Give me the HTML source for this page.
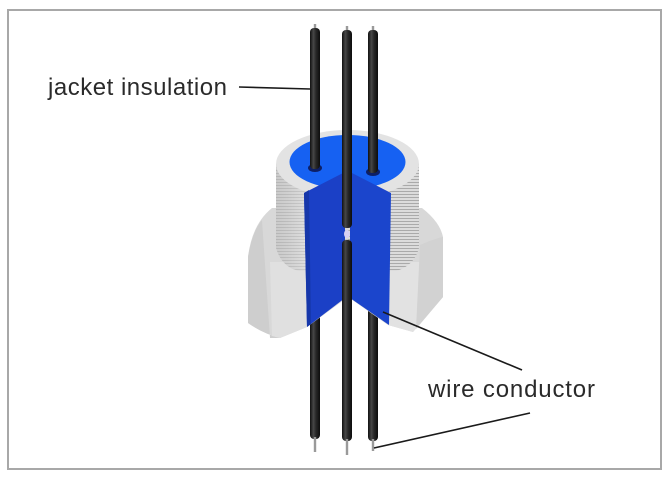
<!DOCTYPE html>
<html><head><meta charset="utf-8"><style>
html,body{margin:0;padding:0;background:#fff;}
svg{display:block;}
</style></head><body>
<svg width="670" height="478" viewBox="0 0 670 478" xmlns="http://www.w3.org/2000/svg">
<defs>
  <pattern id="thrL" width="6" height="3" patternUnits="userSpaceOnUse">
    <rect width="6" height="3" fill="#dadada"/><rect y="2" width="6" height="1" fill="#c4c4c4"/>
  </pattern>
  <pattern id="thrR" width="6" height="3" patternUnits="userSpaceOnUse">
    <rect width="6" height="3" fill="#dcdcdc"/><rect y="2" width="6" height="1" fill="#aaaaaa"/>
  </pattern>
  <linearGradient id="wire" x1="0" x2="1" y1="0" y2="0">
    <stop offset="0" stop-color="#111"/>
    <stop offset="0.35" stop-color="#474747"/>
    <stop offset="0.6" stop-color="#282828"/>
    <stop offset="1" stop-color="#0c0c0c"/>
  </linearGradient>
  <linearGradient id="cylL" x1="0" x2="1">
    <stop offset="0" stop-color="#000" stop-opacity="0.07"/>
    <stop offset="1" stop-color="#fff" stop-opacity="0.1"/>
  </linearGradient>
</defs>
<rect width="670" height="478" fill="#fff"/>
<rect x="8" y="10" width="653" height="459" fill="none" stroke="#a8a8a8" stroke-width="2"/>

<!-- lower wire segments (behind body) -->
<rect x="310" y="300" width="10" height="139" rx="4" fill="url(#wire)"/>
<rect x="313.8" y="437" width="2.4" height="15" fill="#9a9a9a"/>
<rect x="368" y="300" width="10" height="141" rx="4" fill="url(#wire)"/>
<rect x="371.8" y="439" width="2.4" height="12" fill="#9a9a9a"/>

<!-- hex body -->
<path d="M248,257 Q252,224 272,208 L422,208 Q440,222 443,237 L443,297 L413,332 L388,325 L348,297 L307,327 L280,338 Q262,333 248,323 Z" fill="#d8d8d8"/>
<path d="M248,257 Q252,232 262,220 L270,338 L280,338 Q262,333 248,323 Z" fill="#cecece"/>
<polygon points="270,262 305,262 307,327 280,338 272,336" fill="#e0e0e0"/>
<polygon points="388,262 420,262 418,326 413,332 388,325" fill="#e2e2e2"/>
<path d="M420,245 Q436,238 443,237 L443,297 L416,329 Z" fill="#d2d2d2"/>

<!-- threaded cylinder -->
<path d="M276,164 L276,248 Q282,268 300,271 L348,271 L348,164 Z" fill="url(#thrL)"/>
<path d="M348,164 L348,271 L396,271 Q414,266 419,248 L419,164 Z" fill="url(#thrR)"/>
<path d="M276,164 L276,248 Q282,268 300,271 L305,271 L305,164 Z" fill="url(#cylL)"/>

<!-- top ring and blue top -->
<ellipse cx="347.5" cy="164" rx="71.5" ry="34" fill="#e3e3e3"/>
<ellipse cx="347.5" cy="162" rx="58" ry="27" fill="#1661f2"/>

<!-- cut faces -->
<polygon points="304,193 345,172 345,298 307,327" fill="#1b40c6"/>
<polygon points="350,172 391,193 389,325 350,298" fill="#1b45cc"/>
<polygon points="304,193 309,190 311,324 307,327" fill="#1637aa"/>

<!-- wire sockets -->
<ellipse cx="315" cy="168" rx="7" ry="4" fill="#0d1f66"/>
<ellipse cx="373" cy="172" rx="7" ry="4" fill="#0d1f66"/>

<!-- upper wires -->
<rect x="313.8" y="24" width="2.4" height="6" fill="#9a9a9a"/>
<rect x="310" y="28" width="10" height="141" rx="4" fill="url(#wire)"/>
<rect x="371.8" y="26" width="2.4" height="6" fill="#9a9a9a"/>
<rect x="368" y="30" width="10" height="143" rx="4" fill="url(#wire)"/>

<!-- center wire -->
<rect x="345.8" y="26" width="2.4" height="6" fill="#9a9a9a"/>
<rect x="342" y="30" width="10" height="198" rx="4" fill="url(#wire)"/>
<ellipse cx="347" cy="234" rx="3" ry="4" fill="#d6cff2"/>
<rect x="342" y="240" width="10" height="201" rx="4" fill="url(#wire)"/>
<rect x="345.8" y="439" width="2.4" height="16" fill="#9a9a9a"/>

<!-- leader lines -->
<line x1="239" y1="87" x2="310" y2="89" stroke="#1a1a1a" stroke-width="1.6"/>
<line x1="383" y1="312" x2="522" y2="370" stroke="#1a1a1a" stroke-width="1.6"/>
<line x1="374" y1="448" x2="530" y2="413" stroke="#1a1a1a" stroke-width="1.6"/>

<!-- labels -->
<text x="48" y="95" font-family="Liberation Sans, sans-serif" font-size="24" fill="#2a2a2a" textLength="179" lengthAdjust="spacing">jacket insulation</text>
<text x="428" y="397" font-family="Liberation Sans, sans-serif" font-size="24" fill="#2a2a2a" textLength="167" lengthAdjust="spacing">wire conductor</text>
</svg>
</body></html>
